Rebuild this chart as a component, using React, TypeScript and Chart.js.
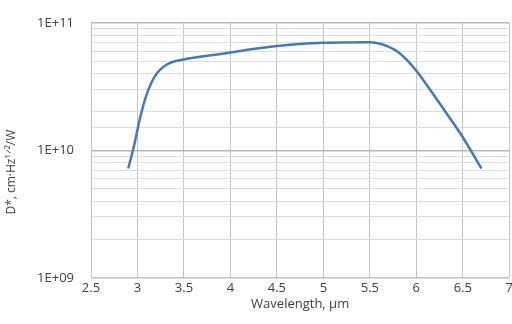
import React, { useEffect, useRef } from "react";
import { Chart, registerables } from "chart.js";

Chart.register(...registerables);

const wavelengths = [2.9, 2.96, 3.03, 3.1, 3.19, 3.32, 3.5, 3.86, 4.5, 5.0, 5.5, 5.76, 5.9, 6.0, 6.3, 6.49, 6.7];
const detectivity = [7.2e9, 1.06e10, 1.82e10, 2.76e10, 3.84e10, 4.73e10, 5.16e10, 5.65e10, 6.57e10, 6.97e10, 7.05e10, 6.18e10, 5.1e10, 4.2e10, 2.07e10, 1.3e10, 7.2e9];
const xTickValues = [2.5, 3, 3.5, 4, 4.5, 5, 5.5, 6, 6.5, 7];
const yTickLabels: Record<number, string> = { 9: "1E+09", 10: "1E+10", 11: "1E+11" };

export default function App() {
  const ref = useRef<HTMLCanvasElement | null>(null);
  useEffect(() => {
    if (!ref.current) return;
    const font = { family: "'Open Sans', sans-serif", size: 13 };
    const isMajor = (ctx: any) => {
      const v = ctx.tick ? ctx.tick.value : 0;
      const l = Math.log10(v);
      return Math.abs(l - Math.round(l)) < 1e-6;
    };
    const chart = new Chart(ref.current, {
      type: "line",
      data: {
        datasets: [
          {
            data: wavelengths.map((x, i) => ({ x, y: detectivity[i] })),
            borderColor: "#4a78b0",
            borderWidth: 2.5,
            pointRadius: 0,
            cubicInterpolationMode: "monotone",
            fill: false,
          },
        ],
      },
      options: {
        animation: false,
        responsive: false,
        maintainAspectRatio: false,
        layout: { padding: { top: 13, right: 0, left: 4, bottom: 12 } },
        plugins: { legend: { display: false }, tooltip: { enabled: false } },
        scales: {
          x: {
            type: "linear",
            min: 2.5,
            max: 7,
            afterBuildTicks: (s: any) => {
              s.ticks = xTickValues.map((v) => ({ value: v }));
            },
            ticks: { font, color: "#404040", padding: 3, maxRotation: 0, callback: (v: any) => String(v) },
            grid: { color: "#c4c4c4", lineWidth: 1, drawTicks: false },
            border: { color: "#c4c4c4" },
            title: { display: true, text: "Wavelength, µm", font, color: "#404040", padding: { top: -3, bottom: 0 } },
          },
          y: {
            type: "logarithmic",
            min: 1e9,
            max: 1e11,
            afterFit: (s: any) => {
              s.width = 87;
            },
            ticks: {
              font,
              color: "#404040",
              padding: 17,
              autoSkip: false,
              callback: (v: any) => {
                const l = Math.log10(Number(v));
                const r = Math.round(l);
                return Math.abs(l - r) < 1e-6 ? yTickLabels[r] || "" : "";
              },
            },
            grid: {
              drawTicks: false,
              color: (ctx: any) => (isMajor(ctx) ? "#b8b8b8" : "#dcdcdc"),
              lineWidth: (ctx: any) => (isMajor(ctx) ? 1.5 : 1),
            },
            border: { color: "#c4c4c4" },
            title: { display: true, text: "D*, cm·Hz¹ᐟ²/W              ", font: { ...font, size: 12 }, color: "#404040", padding: { top: 0, bottom: 0 } },
          },
        },
      },
    } as any);
    return () => chart.destroy();
  }, []);
  return (
    <div style={{ position: "fixed", left: 0, top: 0, width: 512, height: 324, background: "#fff", overflow: "hidden" }}>
      <canvas ref={ref} width={516} height={326} style={{ position: "absolute", left: 0, top: -2, width: 516, height: 326 }} />
    </div>
  );
}
